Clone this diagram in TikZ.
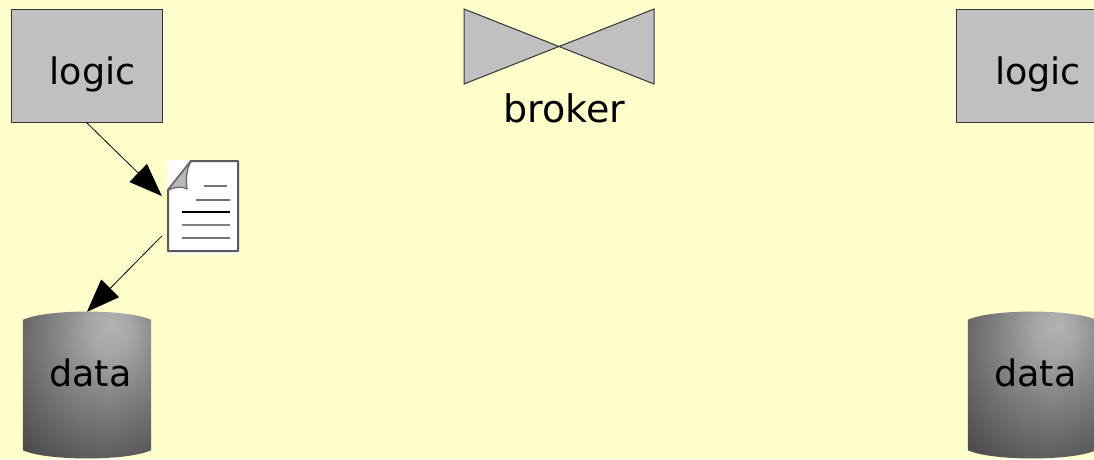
\documentclass[tikz,border=0pt]{standalone}
\usepackage{fontspec}
\setmainfont{DejaVu Sans}
\usetikzlibrary{arrows.meta,calc}
\definecolor{bgcol}{HTML}{FFFFCC}
\definecolor{boxcol}{HTML}{C0C0C0}
\definecolor{edgecol}{HTML}{333333}
\pgfdeclareradialshading{cylshade}{\pgfpoint{10bp}{20bp}}{%
  color(0bp)=(black!30!white);
  color(8bp)=(black!35!white);
  color(18bp)=(black!46!white);
  color(33bp)=(black!60!white);
  color(50bp)=(black!76!white);
  color(60bp)=(black!84!white);
  color(100bp)=(black!84!white)}
\tikzset{
  x=1pt,y=-1pt,
  label text/.style={font=\fontsize{36.5}{37}\selectfont,text=black,anchor=base,inner sep=0pt},
  logic box/.style={draw=edgecol,fill=boxcol,line width=1pt,minimum width=151pt,minimum height=113pt,inner sep=0pt},
  data body/.style={minimum width=128pt,minimum height=146pt,inner sep=0pt},
  bow/.style={draw=edgecol,fill=boxcol,line width=1pt,line join=miter},
  flow/.style={draw=black,line width=0.8pt,-{Triangle[length=33pt,width=25pt]}},
  docline/.style={line width=2.2pt,color=black!55},
  docicon/.style={minimum width=72pt,minimum height=94pt,fill=white,inner sep=0pt}
}
\newcommand{\cylpath}[1]{%
  \path[shading=cylshade]
    ($(#1.north west)+(0,8)$) .. controls ($(#1.north west)+(24,-3)$) and ($(#1.north east)+(-24,-3)$) .. ($(#1.north east)+(0,8)$)
    -- ($(#1.south east)+(0,-8)$) .. controls ($(#1.south east)+(-24,3)$) and ($(#1.south west)+(24,3)$) .. ($(#1.south west)+(0,-8)$) -- cycle;}
\begin{document}
\begin{tikzpicture}
\useasboundingbox (0,0) rectangle (1094,459);
\clip (0,0) rectangle (1094,459);
\fill[bgcol] (0,0) rectangle (1094,459);

% logic boxes
\node[logic box] (logicA) at (86.5,65.5) {};
\node[logic box] (logicB) at (1031.5,65.5) {};
\node[label text] (logicAtext) at (92.5,84) {logic};
\node[label text] (logicBtext) at (1038,84) {logic};

% broker
\coordinate (bowmid) at (559,46.5);
\draw[bow] (464,9) -- (bowmid) -- (464,84) -- cycle;
\draw[bow] (654,9) -- (bowmid) -- (654,84) -- cycle;
\node[label text,font=\fontsize{38}{38}\selectfont] (brokertext) at (564.5,122) {broker};

% data cylinders
\node[data body] (dataA) at (87,385) {};
\node[data body] (dataB) at (1032,385) {};
\cylpath{dataA}
\cylpath{dataB}
\node[label text] (dataAtext) at (90.5,386) {data};
\node[label text] (dataBtext) at (1035.5,386) {data};

% document icon
\node[docicon] (doc) at (203,206.5) {};
\draw[black!65,line width=2pt,line join=round,fill=white]
  (168,190) -- (191,161) -- (238,161) -- (238,251) -- (168,251) -- cycle;
\draw[black!60,line width=1.2pt,fill=black!28,line join=round]
  (168,190) -- (191,161) .. controls (186,170) and (186,180) .. (187,189) .. controls (182,186) and (175,187) .. (168,190) -- cycle;
\draw[docline] (204,186) -- (227,186);
\draw[docline] (196,200) -- (230,200);
\draw[line width=1.2pt,black] (182,212) -- (230,212);
\draw[line width=2.8pt,black!50] (182,225) -- (230,225);
\draw[docline] (182,238) -- (230,238);

% connectors
\coordinate (docin) at ($(doc.west)+(-5,-10.5)$);
\coordinate (docout) at ($(doc.west)+(-5,29.5)$);
\draw[flow] (logicA.south) -- (docin);
\draw[flow] (docout) -- (dataA.north);
\end{tikzpicture}
\end{document}
